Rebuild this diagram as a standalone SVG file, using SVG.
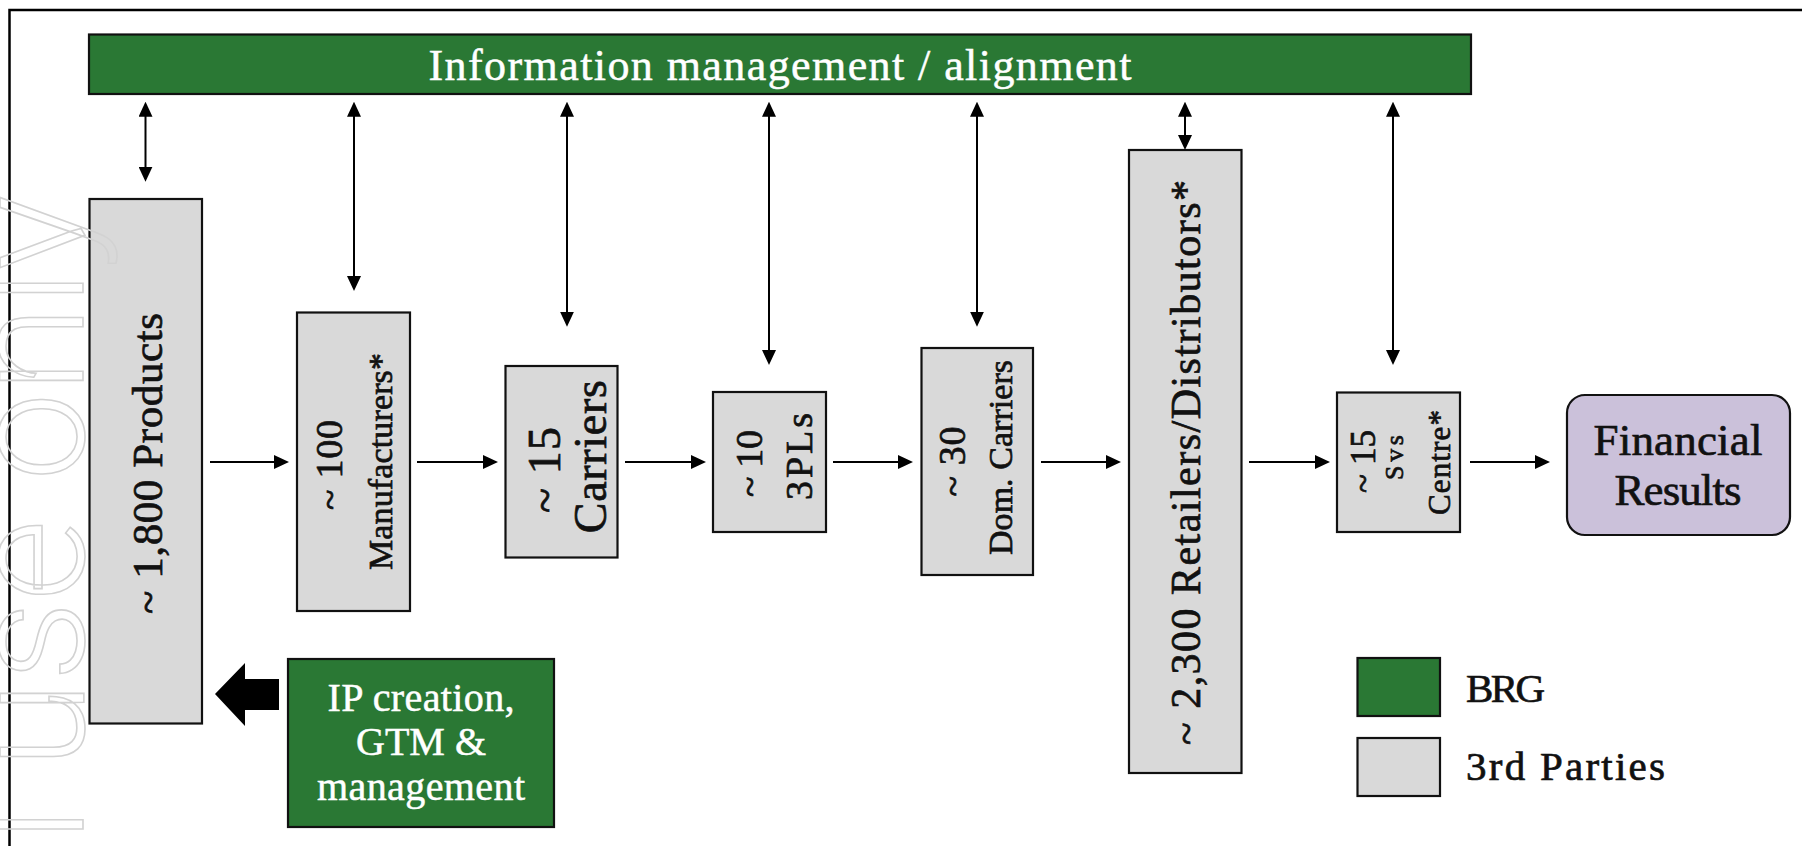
<svg xmlns="http://www.w3.org/2000/svg" width="1802" height="846" viewBox="0 0 1802 846">
<style>
.frame{fill:none;stroke:#000;stroke-width:2.5}
.box{fill:#D9D9D9;stroke:#111;stroke-width:2.2}
.green{fill:#2A7834;stroke:#111;stroke-width:2.2}
.fin{fill:#CBC1DA;stroke:#111;stroke-width:2.2}
.t{font-family:"Liberation Serif","Times New Roman",serif;fill:#111;stroke:#111;stroke-width:0.7;text-anchor:middle}
.l{font-family:"Liberation Serif","Times New Roman",serif;fill:#111;stroke:#111;stroke-width:0.7}
.w{font-family:"Liberation Serif","Times New Roman",serif;fill:#fff;stroke:#fff;stroke-width:0.5;text-anchor:middle}
.c{stroke:#000;stroke-width:2;fill:none;marker-end:url(#ah)}
.d{stroke:#000;stroke-width:2;fill:none;marker-end:url(#ah);marker-start:url(#ah)}
.wm{font-family:Roboto,"Liberation Sans",sans-serif;font-weight:300;fill:none;stroke:#d2d2d2;stroke-width:1.6}
</style>
<defs>
<marker id="ah" markerUnits="userSpaceOnUse" markerWidth="15" markerHeight="14" viewBox="0 0 15 14" refX="12" refY="7" orient="auto-start-reverse">
<path d="M0,0L15,7L0,14z" fill="#000"/>
</marker>
</defs>
<rect class="frame" x="9.5" y="10" width="1850" height="900"/>

<g id="info-bar">
<rect class="green" x="89" y="34.5" width="1382" height="59.5"/>
<text class="w" x="780" y="80" font-size="44" textLength="703">Information management / alignment</text>
</g>

<g id="products">
<rect class="box" x="89.5" y="199" width="112.5" height="524.5"/>
<text class="t" transform="translate(162,463.5) rotate(-90)" font-size="43" textLength="301">~ 1,800 Products</text>
</g>

<g id="manufacturers">
<rect class="box" x="297" y="312.5" width="113" height="298.5"/>
<text class="t" transform="translate(342,465) rotate(-90)" font-size="38" textLength="90">~ 100</text>
<text class="t" transform="translate(392,461.5) rotate(-90)" font-size="34" textLength="217">Manufacturers*</text>
</g>

<g id="carriers">
<rect class="box" x="505.5" y="366" width="112" height="191.5"/>
<text class="t" transform="translate(560,470) rotate(-90)" font-size="46" textLength="86">~ 15</text>
<text class="t" transform="translate(606,456.7) rotate(-90)" font-size="46" textLength="153">Carriers</text>
</g>

<g id="threepls">
<rect class="box" x="713" y="392" width="113" height="140"/>
<text class="t" transform="translate(762,463.5) rotate(-90)" font-size="38" textLength="67">~ 10</text>
<text class="t" transform="translate(812,456.5) rotate(-90)" font-size="38" textLength="87">3PLs</text>
</g>

<g id="dom-carriers">
<rect class="box" x="921.5" y="348" width="111.5" height="227"/>
<text class="t" transform="translate(965,461.5) rotate(-90)" font-size="38" textLength="70">~ 30</text>
<text class="t" transform="translate(1012,457.5) rotate(-90)" font-size="34" textLength="195">Dom. Carriers</text>
</g>

<g id="retailers">
<rect class="box" x="1129" y="150" width="112.5" height="623"/>
<text class="t" transform="translate(1200,462.5) rotate(-90)" font-size="42" textLength="565">~ 2,300 Retailers/Distributors*</text>
</g>

<g id="svs-centre">
<rect class="box" x="1337" y="392.5" width="123" height="139.5"/>
<text class="t" transform="translate(1375,461.5) rotate(-90)" font-size="35" textLength="63">~ 15</text>
<text class="t" transform="translate(1403,457.5) rotate(-90)" font-size="26" textLength="45">Svs</text>
<text class="t" transform="translate(1450,462.5) rotate(-90)" font-size="31" textLength="105">Centre*</text>
</g>

<g id="financial-results">
<rect class="fin" x="1567" y="395" width="223" height="140" rx="18" ry="18"/>
<text class="t" x="1678" y="455" font-size="45" textLength="169">Financial</text>
<text class="t" x="1678" y="505" font-size="45" textLength="127">Results</text>
</g>

<g id="ip-creation">
<rect class="green" x="288" y="659" width="266" height="168"/>
<text class="w" x="421" y="711" font-size="40" textLength="187">IP creation,</text>
<text class="w" x="421" y="755" font-size="40">GTM &amp;</text>
<text class="w" x="421" y="800" font-size="40" textLength="208">management</text>
</g>

<g id="legend">
<rect class="green" x="1357.5" y="658" width="82.5" height="58"/>
<text class="l" x="1466" y="702" font-size="41" textLength="79">BRG</text>
<rect class="box" x="1357.5" y="738" width="82.5" height="58"/>
<text class="l" x="1466" y="780" font-size="41" textLength="199">3rd Parties</text>
</g>

<g id="connectors">
<line class="d" x1="145.5" y1="104.7" x2="145.5" y2="178.7"/>
<line class="d" x1="354" y1="104.7" x2="354" y2="288"/>
<line class="d" x1="567" y1="104.7" x2="567" y2="323.7"/>
<line class="d" x1="769" y1="104.7" x2="769" y2="362"/>
<line class="d" x1="977" y1="104.7" x2="977" y2="323.7"/>
<line class="d" x1="1185" y1="104.7" x2="1185" y2="147"/>
<line class="d" x1="1393" y1="104.7" x2="1393" y2="362"/>
<line class="c" x1="210" y1="462" x2="286" y2="462"/>
<line class="c" x1="417" y1="462" x2="495" y2="462"/>
<line class="c" x1="625" y1="462" x2="703" y2="462"/>
<line class="c" x1="833" y1="462" x2="910" y2="462"/>
<line class="c" x1="1041" y1="462" x2="1118" y2="462"/>
<line class="c" x1="1249" y1="462" x2="1327" y2="462"/>
<line class="c" x1="1470" y1="462" x2="1547" y2="462"/>
<polygon points="215,694 245,663 245,679 279,679 279,710 245,710 245,726" fill="#000"/>
</g>

<text class="wm" transform="translate(83,195) rotate(-90)" font-size="158" text-anchor="end">l use only</text>
</svg>
